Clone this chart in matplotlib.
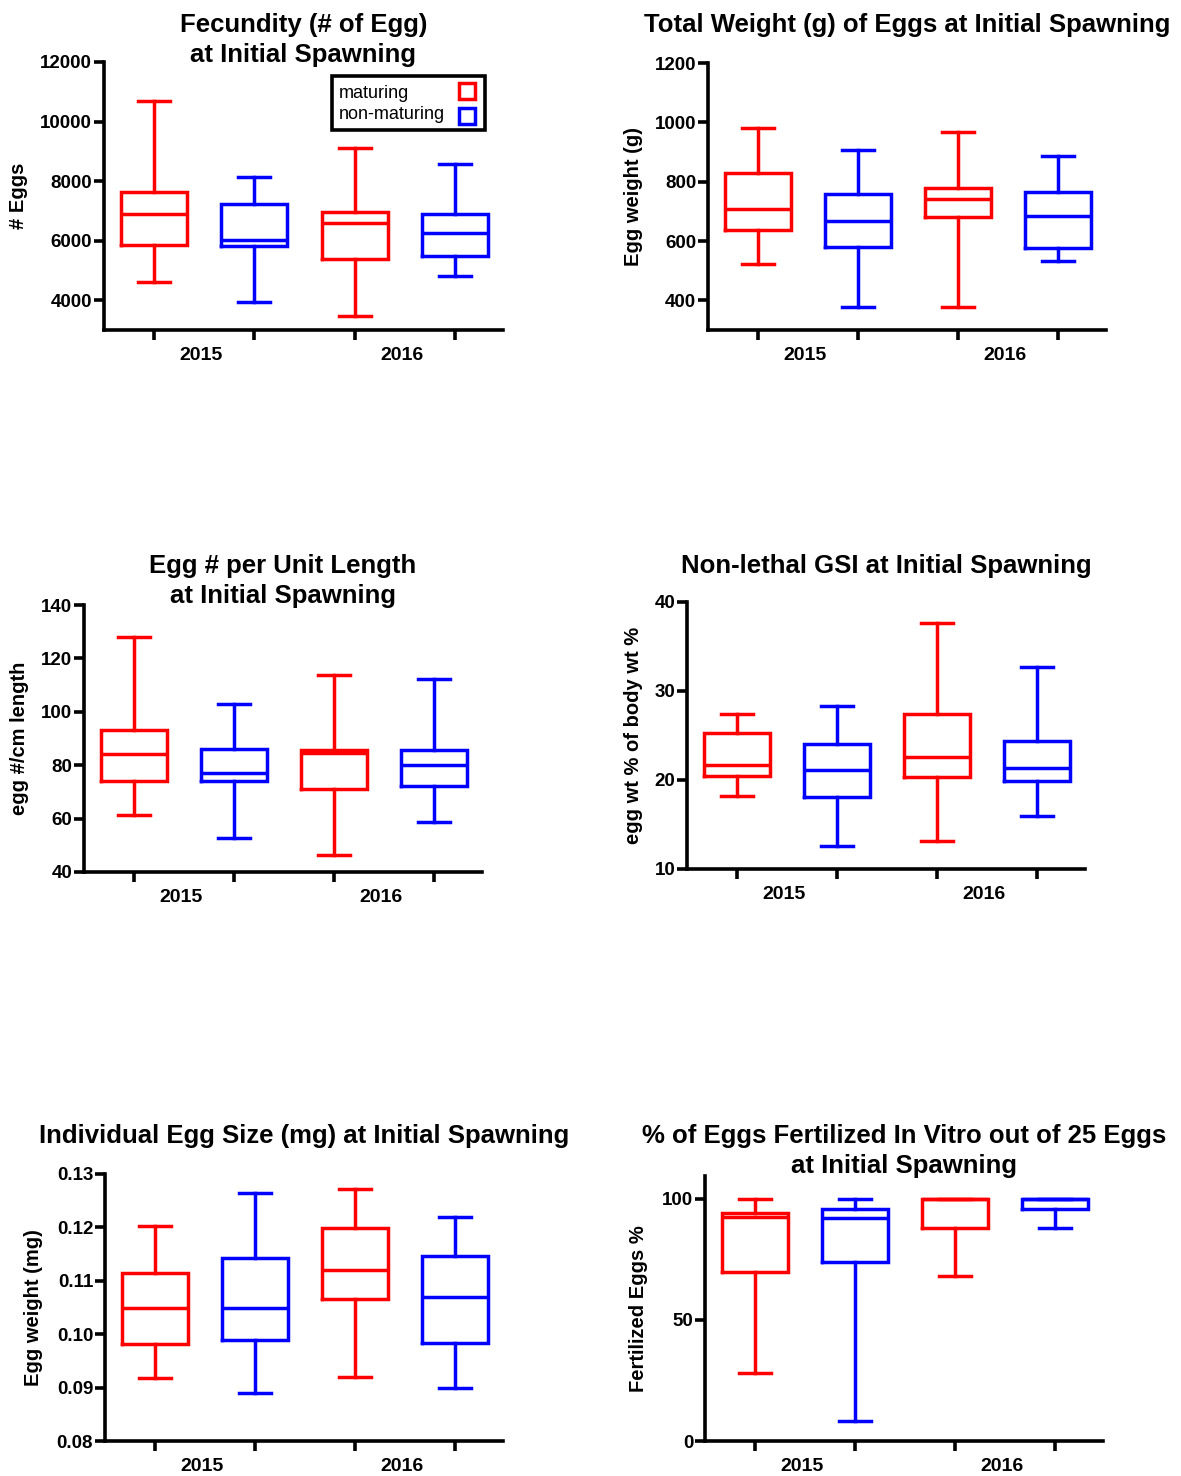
import matplotlib
matplotlib.use('Agg')
import matplotlib.pyplot as plt
from matplotlib.lines import Line2D
from matplotlib.patches import Rectangle

plt.rcParams['font.family'] = ['Liberation Sans', 'DejaVu Sans']

W, H = 1181, 1476
RED = '#FF0000'
BLUE = '#0000FF'

# ---------------- data ----------------
years = ['2015', '2016']
legend_labels = ['maturing', 'non-maturing']
legend_colors = [RED, BLUE]
group_colors = [RED, BLUE, RED, BLUE]   # 2015 mat, 2015 non, 2016 mat, 2016 non

# each row: [min (whisker low), Q1, median, Q3, max (whisker high)]
fecundity = [[4610, 5860, 6890, 7640, 10690],
             [3935, 5820, 6030, 7230, 8140],
             [3465, 5380, 6590, 6960, 9110],
             [4805, 5480, 6265, 6900, 8570]]
total_weight = [[524, 638, 709, 829, 981],
                [376, 580, 666, 759, 906],
                [376, 681, 743, 780, 966],
                [533, 575, 683, 765, 887]]
egg_per_len = [[61.2, 74.1, 84.2, 93.1, 128.0],
               [52.8, 74.0, 77.1, 86.2, 103.1],
               [46.2, 71.1, 84.4, 85.8, 113.8],
               [58.8, 72.3, 80.2, 85.8, 112.2]]
gsi = [[18.2, 20.4, 21.7, 25.3, 27.4],
       [12.6, 18.1, 21.1, 24.0, 28.3],
       [13.1, 20.3, 22.6, 27.4, 37.6],
       [15.9, 19.9, 21.4, 24.4, 32.65]]
egg_size = [[0.0918, 0.0981, 0.1050, 0.1115, 0.1203],
            [0.0890, 0.0990, 0.1050, 0.1143, 0.1265],
            [0.0920, 0.1066, 0.1120, 0.1198, 0.1271],
            [0.0900, 0.0983, 0.1070, 0.1146, 0.1219]]
fertilized = [[28.2, 69.9, 92.4, 94.2, 100.0],
              [8.2, 74.0, 92.3, 96.0, 100.0],
              [68.1, 88.0, 100.0, 100.0, 100.0],
              [88.2, 96.0, 100.0, 100.0, 100.0]]

titles = [['Fecundity (# of Egg)', 'at Initial Spawning'],
          ['Total Weight (g) of Eggs at Initial Spawning'],
          ['Egg # per Unit Length', 'at Initial Spawning'],
          ['Non-lethal GSI at Initial Spawning'],
          ['Individual Egg Size (mg) at Initial Spawning'],
          ['% of Eggs Fertilized In Vitro out of 25 Eggs', 'at Initial Spawning']]
ylabels = ['# Eggs', 'Egg weight (g)', 'egg #/cm length',
           'egg wt % of body wt %', 'Egg weight (mg)', 'Fertilized Eggs %']
yticks = [[4000, 6000, 8000, 10000, 12000],
          [400, 600, 800, 1000, 1200],
          [40, 60, 80, 100, 120, 140],
          [10, 20, 30, 40],
          [0.08, 0.09, 0.10, 0.11, 0.12, 0.13],
          [0, 50, 100]]
ytick_labels = [['4000', '6000', '8000', '10000', '12000'],
                ['400', '600', '800', '1000', '1200'],
                ['40', '60', '80', '100', '120', '140'],
                ['10', '20', '30', '40'],
                ['0.08', '0.09', '0.10', '0.11', '0.12', '0.13'],
                ['0', '50', '100']]
ylims = [(3000, 12000), (300, 1200), (40, 140), (10, 40), (0.08, 0.13), (0, 109.5)]
datasets = [fecundity, total_weight, egg_per_len, gsi, egg_size, fertilized]

# ---------------- layout (pixels: left, top, right, bottom) ----------------
boxes_px = [(104, 62, 503, 330), (708, 63, 1106, 330),
            (84, 605, 482, 872), (687, 602, 1085, 869),
            (105, 1174, 503, 1441), (705, 1176, 1103, 1441)]
title_baselines = [[32, 62], [32], [573, 603], [573], [1143], [1143, 1173]]
ylabel_x = [18, 634, 20, 634, 34, 639]

fig = plt.figure(figsize=(W / 100, H / 100), dpi=100)


def fx(px):
    return px / W


def fy(py):
    return 1 - py / H


LW = 2.5
for i in range(6):
    l, t, r, b = boxes_px[i]
    ax = fig.add_axes([fx(l), fy(b), (r - l) / W, (b - t) / H])
    stats = []
    for row in datasets[i]:
        lo, q1, med, q3, hi = row
        stats.append(dict(whislo=lo, q1=q1, med=med, q3=q3, whishi=hi, fliers=[]))
    art = ax.bxp(stats, positions=[1, 2, 3, 4], widths=0.66, capwidths=0.32,
                 showfliers=False,
                 boxprops=dict(linewidth=LW, solid_joinstyle='miter'),
                 whiskerprops=dict(linewidth=LW),
                 capprops=dict(linewidth=LW),
                 medianprops=dict(linewidth=LW))
    for k, c in enumerate(group_colors):
        art['boxes'][k].set_color(c)
        art['medians'][k].set_color(c)
        for j in (2 * k, 2 * k + 1):
            art['whiskers'][j].set_color(c)
            art['caps'][j].set_color(c)

    ax.set_xlim(0.5, 4.48)
    ax.set_ylim(*ylims[i])
    for s in ('top', 'right'):
        ax.spines[s].set_visible(False)
    for s in ('left', 'bottom'):
        ax.spines[s].set_linewidth(2.6)
    ax.set_xticks([1, 2, 3, 4])
    ax.set_xticklabels([])
    ax.set_xticks([1.47, 3.47], minor=True)
    ax.set_xticklabels(years, minor=True, fontsize=14, fontweight='bold')
    ax.tick_params(axis='x', which='major', direction='out', length=7, width=2.6)
    ax.tick_params(axis='x', which='minor', length=0, pad=12)
    ax.set_yticks(yticks[i])
    ax.set_yticklabels(ytick_labels[i], fontsize=13.5, fontweight='bold')
    ax.tick_params(axis='y', which='major', direction='out', length=7, width=2.6, pad=1.5)
    ax.tick_params(axis='y', which='minor', left=False)

    cx = fx((l + r) / 2)
    for line, yb in zip(titles[i], title_baselines[i]):
        fig.text(cx, fy(yb), line, ha='center', va='baseline',
                 fontsize=18.5, fontweight='bold')
    fig.text(fx(ylabel_x[i]), fy((t + b) / 2), ylabels[i], rotation=90,
             ha='center', va='center', fontsize=14.5, fontweight='bold')

    if i == 0:
        # legend box drawn in figure pixel space
        ax.add_patch(Rectangle((fx(332), fy(130)), 153 / W, 54 / H,
                               transform=fig.transFigure, facecolor='white',
                               edgecolor='black', linewidth=2.6, clip_on=False,
                               zorder=5))
        for lab, col, yb, ym in zip(legend_labels, legend_colors, [98, 119], [91, 115.5]):
            fig.text(fx(339), fy(yb), lab, ha='left', va='baseline', fontsize=13,
                     zorder=6)
            ax.add_line(Line2D([fx(467)], [fy(ym)], transform=fig.transFigure,
                               ls='none', marker='s', ms=11, mew=2.5, mfc='white',
                               mec=col, clip_on=False, zorder=6))

fig.savefig('out.png', dpi=100)
